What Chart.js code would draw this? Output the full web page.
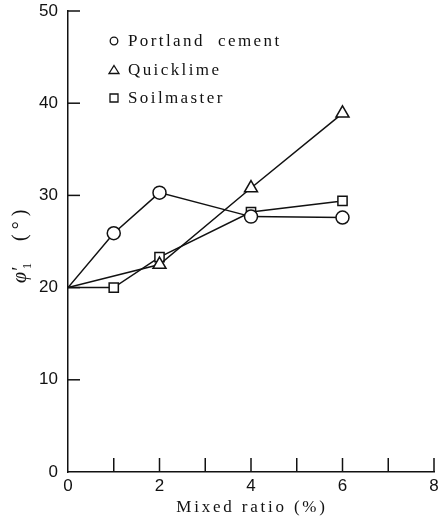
<!DOCTYPE html>
<html>
<head>
<meta charset="utf-8">
<script src="https://cdn.jsdelivr.net/npm/chart.js@4"></script>
<style>
  html, body { margin:0; padding:0; background:#fff; }
  #wrap { width:439px; height:518px; }
</style>
</head>
<body>
<div id="wrap"><canvas id="c" width="439" height="518"></canvas></div>
<script>
// data
const mixRatio = [0, 1, 2, 4, 6];
const quickRatio = [0, 2, 4, 6];
const portland = [20, 25.9, 30.3, 27.7, 27.6];
const quicklime = [20, 22.5, 30.8, 38.9];
const soilmaster = [20, 20, 23.3, 28.2, 29.4];
const xTicks = [0, 2, 4, 6, 8];
const yTicks = [0, 10, 20, 30, 40, 50];

const pts = (xs, ys) => xs.map((x, i) => ({x: x, y: ys[i]}));
// no marker on the shared origin point
const radii = (n, r) => Array.from({length: n}, (_, i) => i === 0 ? 0 : r);

// inward ticks, axis titles and the boxed-in legend
const extras = {
  id: 'extras',
  afterDraw(chart) {
    const ctx = chart.ctx, xs = chart.scales.x, ys = chart.scales.y;
    const x0 = xs.getPixelForValue(0), y0 = ys.getPixelForValue(0);
    ctx.save();
    ctx.strokeStyle = '#111';
    ctx.lineWidth = 1.5;
    for (let v = 1; v <= 8; v++) {
      const px = xs.getPixelForValue(v);
      ctx.beginPath(); ctx.moveTo(px, y0); ctx.lineTo(px, y0 - 14); ctx.stroke();
    }
    yTicks.slice(1).forEach(v => {
      const py = ys.getPixelForValue(v);
      ctx.beginPath(); ctx.moveTo(x0, py); ctx.lineTo(x0 + 12, py); ctx.stroke();
    });

    ctx.fillStyle = '#111';
    ctx.font = '17px "Liberation Serif", serif';
    ctx.letterSpacing = '2.8px';
    ctx.textBaseline = 'alphabetic';
    ctx.textAlign = 'center';
    ctx.fillText('Mixed ratio (%)', 252, 512);

    ctx.save();
    ctx.translate(26, 245);
    ctx.rotate(-Math.PI / 2);
    ctx.letterSpacing = '0px';
    ctx.font = 'italic 20px "Liberation Serif", serif';
    ctx.textAlign = 'left';
    ctx.fillText('\u03c6\u2032', -38, 0);
    ctx.font = '12px "Liberation Serif", serif';
    ctx.fillText('1', -24, 5);
    ctx.font = '20px "Liberation Serif", serif';
    ctx.fillText('(\u00a0\u00b0\u00a0)', 4, 0);
    ctx.restore();

    // legend
    const items = [
      ['circle', 'Portland  cement', 41],
      ['triangle', 'Quicklime', 70],
      ['rect', 'Soilmaster', 98]
    ];
    ctx.font = '17px "Liberation Serif", serif';
    ctx.letterSpacing = '2.4px';
    ctx.textAlign = 'left';
    ctx.textBaseline = 'middle';
    ctx.lineWidth = 1.3;
    items.forEach(([shape, label, y]) => {
      const x = 114;
      ctx.beginPath();
      if (shape === 'circle') ctx.arc(x, y, 3.8, 0, Math.PI * 2);
      else if (shape === 'triangle') { ctx.moveTo(x, y - 4.5); ctx.lineTo(x + 5, y + 3.5); ctx.lineTo(x - 5, y + 3.5); ctx.closePath(); }
      else ctx.rect(x - 4, y - 4, 8, 8);
      ctx.stroke();
      ctx.fillText(label, 128, y + 1);
    });
    ctx.restore();
  }
};

const common = {
  borderColor: '#111',
  borderWidth: 1.5,
  pointBackgroundColor: '#fff',
  pointBorderColor: '#111',
  pointBorderWidth: 1.5,
  tension: 0,
  showLine: true
};

new Chart(document.getElementById('c'), {
  type: 'scatter',
  data: {
    datasets: [
      Object.assign({label: 'Portland cement', data: pts(mixRatio, portland), pointStyle: 'circle', pointRadius: radii(5, 6.5)}, common),
      Object.assign({label: 'Quicklime', data: pts(quickRatio, quicklime), pointStyle: 'triangle', pointRadius: radii(4, 7.5)}, common),
      Object.assign({label: 'Soilmaster', data: pts(mixRatio, soilmaster), pointStyle: 'rect', pointRadius: radii(5, 6.5)}, common)
    ]
  },
  options: {
    responsive: false,
    animation: false,
    layout: { autoPadding: false, padding: { top: 11, right: 5, left: 0, bottom: 0 } },
    plugins: { legend: { display: false }, tooltip: { enabled: false } },
    scales: {
      x: {
        type: 'linear', min: 0, max: 8,
        afterBuildTicks: s => { s.ticks = xTicks.map(v => ({value: v})); },
        afterFit: s => { s.height = 46; s.paddingRight = 0; s.paddingLeft = 0; },
        grid: { display: false },
        border: { display: true, color: '#111', width: 1.5 },
        ticks: { color: '#111', padding: -4, font: { family: '"Liberation Sans", sans-serif', size: 17 } }
      },
      y: {
        type: 'linear', min: 0, max: 50,
        afterBuildTicks: s => { s.ticks = yTicks.map(v => ({value: v})); },
        afterFit: s => { s.width = 68; s.paddingTop = 0; },
        grid: { display: false },
        border: { display: true, color: '#111', width: 1.5 },
        ticks: { color: '#111', padding: 2, font: { family: '"Liberation Sans", sans-serif', size: 17 } }
      }
    }
  },
  plugins: [extras]
});
</script>
</body>
</html>
